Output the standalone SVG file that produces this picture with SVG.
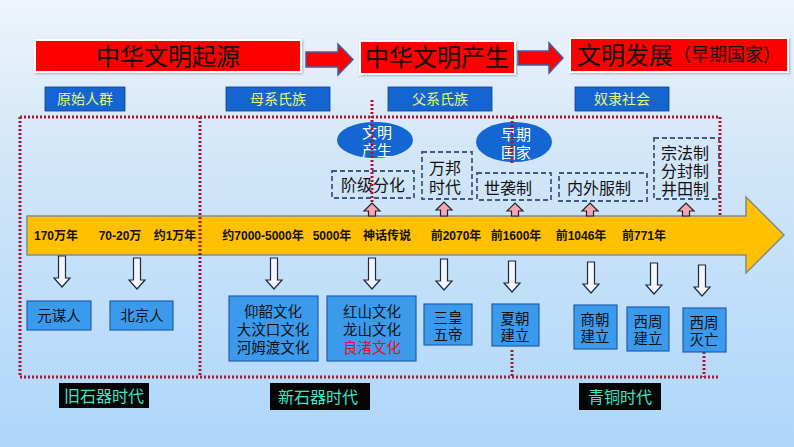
<svg xmlns="http://www.w3.org/2000/svg" width="794" height="447" viewBox="0 0 794 447">
<defs>
<linearGradient id="bg" x1="0" y1="0" x2="0" y2="1">
<stop offset="0" stop-color="#EEF4FB"/>
<stop offset="0.35" stop-color="#D2E6F8"/>
<stop offset="1" stop-color="#AED6FA"/>
</linearGradient>
<filter id="sh" x="-5%" y="-20%" width="110%" height="140%">
<feDropShadow dx="1" dy="1" stdDeviation="1" flood-color="#000" flood-opacity="0.25"/>
</filter>
</defs>
<style>
text{font-family:"Liberation Sans","Noto Sans CJK SC",sans-serif;text-anchor:middle;dominant-baseline:central}
.title{fill:#FF0000;stroke:#FFFFFF;stroke-width:2}
.tt{font-size:24px;fill:#111}
.hdr{fill:#FF0000;stroke:#3A62A8;stroke-width:1.5}
.lab{fill:#1565D0;stroke:#0D3F8A;stroke-width:0.8}
.labt{font-size:14px;fill:#E8F77A}
.dot{fill:none;stroke:#A41830;stroke-width:3;stroke-dasharray:2 2}
.dash{fill:none;stroke:#3D5A80;stroke-width:1.8;stroke-dasharray:5 3}
.dt{font-size:16px;fill:#111}
.ell{fill:#1467D2}
.et{font-size:15px;fill:#FFFFFF}
.tl{font-size:12px;font-weight:bold;fill:#111}
.up{fill:#F6A5B5;stroke:#222;stroke-width:1.2}
.down{fill:#F2F6FC;stroke:#1A2A40;stroke-width:1.2}
.box{fill:#3C9AEC;stroke:#1D5FAE;stroke-width:1.2}
.bt{font-size:14.5px;fill:#111}
.red{fill:#E0102A}
.era{fill:#050505}
.erat{font-size:16px;fill:#3FE3C8}
</style>
<rect width="794" height="447" fill="url(#bg)"/>

<g id="title1"><rect class="title" x="35" y="40" width="266" height="32" filter="url(#sh)"/><text class="tt" x="168" y="56">中华文明起源</text></g>
<g id="title2"><rect class="title" x="360" y="41" width="155" height="33" filter="url(#sh)"/><text class="tt" x="437" y="57">中华文明产生</text></g>
<g id="title3"><rect class="title" x="570" y="38" width="218" height="34" filter="url(#sh)"/><text x="679" y="55" style="fill:#111"><tspan style="font-size:24px">文明发展</tspan><tspan style="font-size:18px">（早期国家）</tspan></text></g>

<g id="connectors-header">
<path class="hdr" d="M306 52 H338 V44 L353 59.5 L338 75 V67 H306 Z"/>
<path class="hdr" d="M518 51 H549 V43 L563 58 L549 73 V65 H518 Z"/>
</g>

<g id="lab1"><rect class="lab" x="45" y="87" width="80" height="24"/><text class="labt" x="85" y="99">原始人群</text></g>
<g id="lab2"><rect class="lab" x="226" y="87" width="104" height="24"/><text class="labt" x="278" y="99">母系氏族</text></g>
<g id="lab3"><rect class="lab" x="388" y="87" width="104" height="24"/><text class="labt" x="440" y="99">父系氏族</text></g>
<g id="lab4"><rect class="lab" x="575" y="87" width="94" height="24"/><text class="labt" x="622" y="99">奴隶社会</text></g>

<g id="timeline">
<path d="M27 216 H746 V197 L784 235 L746 273 V255 H27 Z" fill="#FFC000" stroke="#7F8C8D" stroke-width="1.5"/>
<text class="tl" x="56" y="236">170万年</text>
<text class="tl" x="120" y="236">70-20万</text>
<text class="tl" x="175" y="236">约1万年</text>
<text class="tl" x="263" y="236">约7000-5000年</text>
<text class="tl" x="332" y="236">5000年</text>
<text class="tl" x="387" y="236">神话传说</text>
<text class="tl" x="456" y="236">前2070年</text>
<text class="tl" x="516" y="236">前1600年</text>
<text class="tl" x="581" y="236">前1046年</text>
<text class="tl" x="644" y="236">前771年</text>
</g>

<g id="ell1"><ellipse class="ell" cx="375" cy="140" rx="38" ry="18"/><text class="et" x="377" y="132">文明</text><text class="et" x="377" y="150">产生</text></g>
<g id="ell2"><ellipse class="ell" cx="514" cy="142" rx="38" ry="20"/><text class="et" x="516" y="134">早期</text><text class="et" x="516" y="152">国家</text></g>

<g id="d1"><rect class="dash" x="332" y="171" width="82" height="27"/><text class="dt" x="373" y="185">阶级分化</text></g>
<g id="d2"><rect class="dash" x="422" y="152" width="50" height="47"/><text class="dt" x="445" y="168">万邦</text><text class="dt" x="445" y="187">时代</text></g>
<g id="d3"><rect class="dash" x="477" y="173" width="74" height="27"/><text class="dt" x="508" y="188">世袭制</text></g>
<g id="d4"><rect class="dash" x="559" y="173" width="88" height="28"/><text class="dt" x="599" y="188">内外服制</text></g>
<g id="d5"><rect class="dash" x="654" y="138" width="65" height="61"/><text class="dt" x="685" y="153">宗法制</text><text class="dt" x="685" y="171">分封制</text><text class="dt" x="685" y="189">井田制</text></g>

<g id="frames">
<path class="dot" d="M20 117 H720 V215"/>
<path class="dot" d="M20 117 V377 H720"/>
<path class="dot" d="M200 117 V377"/>
<path class="dot" d="M372 100 V204"/>
<path class="dot" d="M512 117 V165"/>
<path class="dot" d="M512 350 V377"/>
<path class="dot" d="M704 352 V377"/>
</g>

<g id="connectors">
<path class="up" d="M368.5 216 V211 H364 L372 203 L380 211 H375.5 V216 Z"/>
<path class="up" d="M440.5 216 V210 H436 L444 202 L452 210 H447.5 V216 Z"/>
<path class="up" d="M511.5 216 V211 H507 L515 203 L523 211 H518.5 V216 Z"/>
<path class="up" d="M586.5 216 V211 H582 L590 203 L598 211 H593.5 V216 Z"/>
<path class="up" d="M682.5 216 V211 H678 L686 203 L694 211 H689.5 V216 Z"/>
<path class="down" d="M58.5 256 H65.5 V278 H70 L62 287 L54 278 H58.5 Z"/>
<path class="down" d="M133.5 258 H140.5 V280 H145 L137 289 L129 280 H133.5 Z"/>
<path class="down" d="M270.5 258 H277.5 V280 H282 L274 289 L266 280 H270.5 Z"/>
<path class="down" d="M368.5 258 H375.5 V280 H380 L372 289 L364 280 H368.5 Z"/>
<path class="down" d="M440.5 259 H447.5 V281 H452 L444 290 L436 281 H440.5 Z"/>
<path class="down" d="M508.5 261 H515.5 V283 H520 L512 292 L504 283 H508.5 Z"/>
<path class="down" d="M587.5 262 H594.5 V284 H599 L591 293 L583 284 H587.5 Z"/>
<path class="down" d="M650.5 263 H657.5 V285 H662 L654 294 L646 285 H650.5 Z"/>
<path class="down" d="M698.5 265 H705.5 V287 H710 L702 296 L694 287 H698.5 Z"/>
</g>

<g id="b1"><rect class="box" x="27" y="301" width="64" height="29"/><text class="bt" x="59" y="316">元谋人</text></g>
<g id="b2"><rect class="box" x="110" y="301" width="63" height="29"/><text class="bt" x="142" y="316">北京人</text></g>
<g id="b3"><rect class="box" x="229" y="296" width="89" height="65"/><text class="bt" x="273" y="312">仰韶文化</text><text class="bt" x="273" y="330">大汶口文化</text><text class="bt" x="273" y="348">河姆渡文化</text></g>
<g id="b4"><rect class="box" x="327" y="296" width="89" height="65"/><text class="bt" x="372" y="312">红山文化</text><text class="bt" x="372" y="330">龙山文化</text><text class="bt red" x="372" y="348">良渚文化</text></g>
<g id="b5"><rect class="box" x="424" y="304" width="48" height="41"/><text class="bt" x="448" y="318">三皇</text><text class="bt" x="448" y="335">五帝</text></g>
<g id="b6"><rect class="box" x="492" y="304" width="47" height="42"/><text class="bt" x="515" y="319">夏朝</text><text class="bt" x="515" y="336">建立</text></g>
<g id="b7"><rect class="box" x="574" y="305" width="43" height="44"/><text class="bt" x="595" y="320">商朝</text><text class="bt" x="595" y="337">建立</text></g>
<g id="b8"><rect class="box" x="627" y="307" width="42" height="44"/><text class="bt" x="648" y="322">西周</text><text class="bt" x="648" y="339">建立</text></g>
<g id="b9"><rect class="box" x="683" y="308" width="43" height="44"/><text class="bt" x="704" y="323">西周</text><text class="bt" x="704" y="340">灭亡</text></g>

<g id="era1"><rect class="era" x="59" y="383" width="90" height="25"/><text class="erat" x="104" y="396">旧石器时代</text></g>
<g id="era2"><rect class="era" x="270" y="383" width="100" height="27"/><text class="erat" x="318" y="397">新石器时代</text></g>
<g id="era3"><rect class="era" x="579" y="383" width="82" height="27"/><text class="erat" x="620" y="397">青铜时代</text></g>
</svg>
